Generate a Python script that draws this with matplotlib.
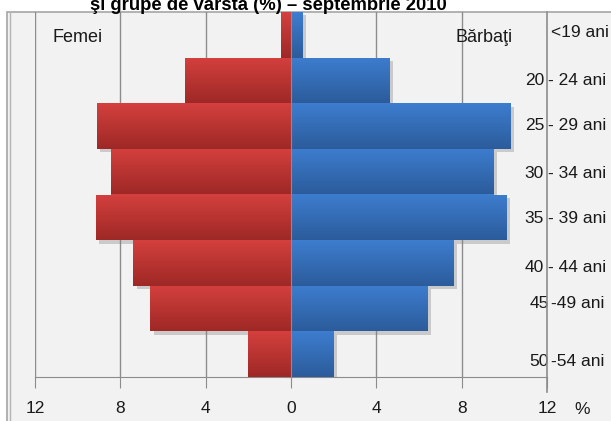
import matplotlib
matplotlib.use("Agg")
import matplotlib.pyplot as plt
import matplotlib.patches as mpatches
import matplotlib.transforms as mtransforms
import matplotlib.patheffects as pe
import numpy as np

# age groups, top to bottom
groups_left = ['', '20', '25', '30', '35', '40', '45', '50']
groups_right = ['<19 ani', '- 24 ani', '- 29 ani', '- 34 ani', '- 39 ani',
                '- 44 ani', '-49 ani', '-54 ani']
# share of each age group (%)
femei = [0.47, 4.95, 9.1, 8.45, 9.15, 7.4, 6.6, 2.0]
barbati = [0.55, 4.6, 10.3, 9.5, 10.1, 7.6, 6.4, 2.0]
xticks = [-12, -8, -4, 0, 4, 8, 12]
xtick_labels = ['12', '8', '4', '0', '4', '8', '12']

title = 'şi grupe de vârstă (%) – septembrie 2010'

W, H = 611, 421
plt.rcParams['font.family'] = ['Liberation Sans', 'DejaVu Sans']

fig = plt.figure(figsize=(W / 100, H / 100), dpi=100)
fig.patch.set_facecolor('white')

def fx(px):
    return px / W

def fy(py):
    return 1 - py / H

# outer chart frame (light gray, double line on the left)
frame = mpatches.Rectangle((fx(7), fy(440)), fx(640), fy(12) - fy(440),
                           transform=fig.transFigure, facecolor='#f2f2f2',
                           edgecolor='#a6a6a6', lw=1.2, zorder=-5)
fig.patches.append(frame)
fig.add_artist(plt.Line2D([fx(10), fx(10)], [0, fy(12)], color='#b4b4b4',
                          lw=1, transform=fig.transFigure, zorder=-4))

ax = fig.add_axes([fx(35), fy(377), fx(547) - fx(35), fy(12) - fy(377)])
ax.patch.set_alpha(0)

y = np.arange(len(femei))
red_top, red_bot = np.array([0.83, 0.25, 0.24]), np.array([0.62, 0.16, 0.15])
blue_top, blue_bot = np.array([0.24, 0.49, 0.81]), np.array([0.17, 0.36, 0.61])

def gradient_fill(bars, top, bot):
    t = np.linspace(0, 1, 64)[:, None, None]
    grad = top * (1 - t) + bot * t
    for p in bars:
        x0, y0 = p.get_x(), p.get_y()
        w, h = p.get_width(), p.get_height()
        im = ax.imshow(grad, extent=(x0, x0 + w, y0 + h, y0), origin='upper',
                       aspect='auto', zorder=p.get_zorder() + 0.01,
                       interpolation='bilinear')
        im.set_clip_path(p)

shadow = [pe.SimplePatchShadow(offset=(2.5, -2.5), shadow_rgbFace='#808080',
                               alpha=0.35), pe.Normal()]

bars_f = ax.barh(y, [-v for v in femei], height=1.0, color=red_top,
                 linewidth=0, zorder=3)
bars_m = ax.barh(y, barbati, height=1.0, color=blue_top, linewidth=0, zorder=3)
for p in list(bars_f) + list(bars_m):
    p.set_path_effects(shadow)
gradient_fill(bars_f, red_top, red_bot)
gradient_fill(bars_m, blue_top, blue_bot)

ax.set_xlim(-12, 12)
ax.set_ylim(len(femei) - 0.5, -0.5)

# vertical grid lines
for xv in [-12, -8, -4, 4, 8]:
    ax.axvline(xv, color='#8c8c8c', lw=1, zorder=1)
ax.axvline(12, ymin=-0.04, ymax=1, color='#8c8c8c', lw=1.2, zorder=5,
           clip_on=False)

# spines: bottom axis and zero line
for s in ['top', 'right']:
    ax.spines[s].set_visible(False)
ax.spines['bottom'].set_color('#8c8c8c')
ax.spines['left'].set_position(('data', 0))
ax.spines['left'].set_color('#8c8c8c')
ax.spines['left'].set_zorder(6)
ax.set_xticks(xticks)
ax.set_xticklabels(xtick_labels)
ax.tick_params(axis='x', length=8, color='#8c8c8c', labelsize=12.5, pad=9,
               labelcolor='#1a1a1a')
ax.set_yticks(np.arange(len(femei) + 1) - 0.5)
ax.set_yticklabels([])
ax.tick_params(axis='y', length=4, color='#8c8c8c', direction='out')

# age group labels on the right side
label_shift = [-0.04, 0.0, -0.02, 0.03, 0.02, 0.09, -0.12, 0.17]
trans = mtransforms.blended_transform_factory(fig.transFigure, ax.transData)
for i, (a, b) in enumerate(zip(groups_left, groups_right)):
    yy = i + label_shift[i]
    xl = 548.5 if i >= 6 else 544
    xr = 551 if i in (0, 6, 7) else 548.5
    ax.text(fx(xl), yy, a, transform=trans, ha='right', va='center',
            fontsize=12.5, color='#1a1a1a', clip_on=False)
    ax.text(fx(xr), yy, b, transform=trans, ha='left', va='center',
            fontsize=12.5, color='#1a1a1a', clip_on=False)

fig.text(fx(52), fy(38), 'Femei', ha='left', va='center', fontsize=13,
         color='#1a1a1a')
fig.text(fx(513), fy(38), 'Bărbaţi', ha='right', va='center', fontsize=13,
         color='#1a1a1a')
fig.text(fx(582), fy(410), '%', ha='center', va='center', fontsize=12.5,
         color='#1a1a1a')

fig.text(fx(268), fy(10), title, ha='center', va='baseline', fontsize=13.3,
         fontweight='bold', color='black')

fig.savefig('out.png', dpi=100)
